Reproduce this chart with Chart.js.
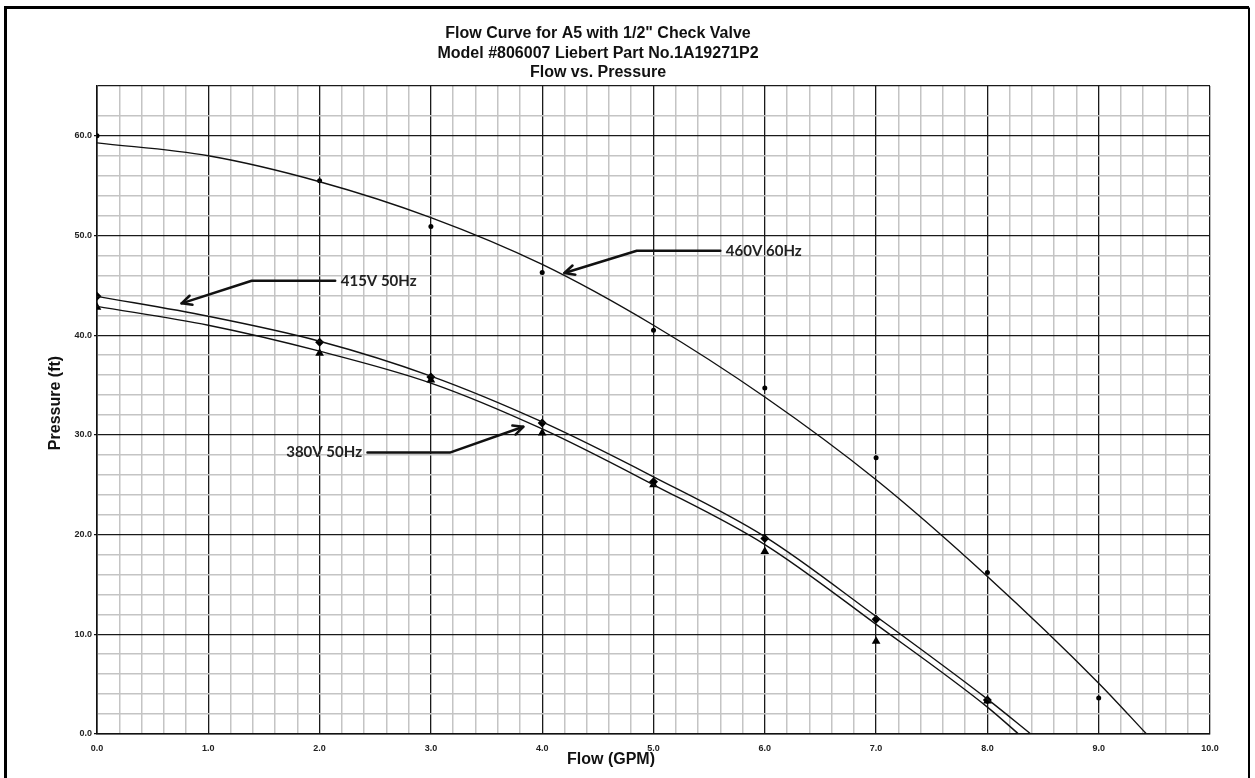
<!DOCTYPE html>
<html>
<head>
<meta charset="utf-8">
<script src="https://cdn.jsdelivr.net/npm/chart.js@4/dist/chart.umd.min.js"></script>
<style>
  html, body { margin: 0; padding: 0; background: #fff; }
  #wrap { width: 1255px; height: 778px; position: relative; }
</style>
</head>
<body>
<div id="wrap"><canvas id="flowChart" width="1255" height="778"></canvas></div>
<script>
const flow460 = [0, 2, 3, 4, 5, 6, 7, 8, 9];
const press460 = [60.0, 55.5, 50.9, 46.3, 40.5, 34.7, 27.7, 16.2, 3.6];
const flow415 = [0, 2, 3, 4, 5, 6, 7, 8];
const press415 = [43.9, 39.3, 35.8, 31.2, 25.3, 19.6, 11.5, 3.4];
const flow380 = [0, 2, 3, 4, 5, 6, 7, 8];
const press380 = [42.8, 38.2, 35.5, 30.2, 25.0, 18.3, 9.3, 3.3];

// Trend curves
const curveFlow460 = [0, 1, 2, 3, 4, 5, 6, 7, 8, 9, 9.43];
const curvePress460 = [59.3, 58.0, 55.4, 51.8, 47.1, 41.0, 33.8, 25.5, 15.8, 5.1, 0];
const curveFlow415 = [0, 1, 2, 3, 4, 5, 6, 7, 8, 8.39];
const curvePress415 = [43.9, 41.9, 39.4, 35.9, 31.3, 25.8, 19.8, 11.8, 3.5, 0];
const curveFlow380 = [0, 1, 2, 3, 4, 5, 6, 7, 8, 8.28];
const curvePress380 = [42.9, 41.0, 38.4, 35.2, 30.6, 25.0, 19.0, 11.0, 2.7, 0];

// Callout labels: text, text position, arrow path (data units)
const calloutText = ['460V 60Hz', '415V 50Hz', '380V 50Hz'];
const calloutTextAt = [[5.65, 48.48], [2.19, 45.47], [1.70, 28.23]];
const calloutPath = [
  [[5.6, 48.48], [4.85, 48.48], [4.2, 46.24]],
  [[2.14, 45.47], [1.39, 45.47], [0.76, 43.2]],
  [[2.43, 28.23], [3.17, 28.23], [3.83, 30.82]]
];

const titleLines = ['Flow Curve for A5 with 1/2" Check Valve', 'Model #806007 Liebert Part No.1A19271P2', 'Flow vs. Pressure'];

function pts(xs, ys) {
  return xs.map((x, i) => ({ x: x, y: ys[i] }));
}

function isMajor(v, step) {
  return Math.abs(v / step - Math.round(v / step)) < 1e-6;
}

const frameAndText = {
  id: 'frameAndText',
  beforeDraw(chart) {
    const c = chart.ctx;
    c.save();
    c.fillStyle = '#fff';
    c.fillRect(0, 0, chart.width, chart.height);
    c.restore();
  },
  afterDraw(chart) {
    const c = chart.ctx;
    const xs = chart.scales.x, ys = chart.scales.y;
    c.save();
    // outer frame
    c.strokeStyle = '#000';
    c.lineWidth = 3;
    c.beginPath();
    c.moveTo(5.5, 778);
    c.lineTo(5.5, 7.5);
    c.lineTo(1249, 7.5);
    c.stroke();
    c.lineWidth = 2;
    c.beginPath();
    c.moveTo(1249, 7.5);
    c.lineTo(1249, 778);
    c.stroke();

    // title
    c.fillStyle = '#111';
    c.textAlign = 'center';
    c.textBaseline = 'middle';
    c.font = 'bold 16px "Liberation Sans", Arial, sans-serif';
    titleLines.forEach((t, i) => c.fillText(t, 598, 33.5 + i * 19.6));

    // axis titles
    c.font = 'bold 16px "Liberation Sans", Arial, sans-serif';
    c.fillText('Flow (GPM)', 611, 760);
    c.save();
    c.translate(56, 403);
    c.rotate(-Math.PI / 2);
    c.fillText('Pressure (ft)', 0, 0);
    c.restore();

    // callouts
    c.font = 'bold 15px Lato, "Open Sans", sans-serif';
    c.textAlign = 'left';
    calloutText.forEach((t, i) => {
      const tp = calloutTextAt[i];
      c.fillStyle = '#222';
      c.fillText(t, xs.getPixelForValue(tp[0]), ys.getPixelForValue(tp[1]));
      const path = calloutPath[i].map(p => [xs.getPixelForValue(p[0]), ys.getPixelForValue(p[1])]);
      c.strokeStyle = '#111';
      c.lineWidth = 2.5;
      c.lineCap = 'round';
      c.lineJoin = 'round';
      c.beginPath();
      c.moveTo(path[0][0], path[0][1]);
      for (let k = 1; k < path.length; k++) c.lineTo(path[k][0], path[k][1]);
      c.stroke();
      // arrow head
      const a = path[path.length - 2], b = path[path.length - 1];
      const ang = Math.atan2(b[1] - a[1], b[0] - a[0]);
      const len = 11, spread = 0.45;
      c.beginPath();
      c.moveTo(b[0] - len * Math.cos(ang - spread), b[1] - len * Math.sin(ang - spread));
      c.lineTo(b[0], b[1]);
      c.lineTo(b[0] - len * Math.cos(ang + spread), b[1] - len * Math.sin(ang + spread));
      c.stroke();
    });
    c.restore();
  }
};

const ctx = document.getElementById('flowChart').getContext('2d');
const flowChart = new Chart(ctx, {
  type: 'scatter',
  data: {
    datasets: [
      {
        label: '460V 60Hz trend',
        data: pts(curveFlow460, curvePress460),
        showLine: true,
        borderColor: '#111',
        borderWidth: 1.4,
        pointRadius: 0,
        cubicInterpolationMode: 'monotone'
      },
      {
        label: '415V 50Hz trend',
        data: pts(curveFlow415, curvePress415),
        showLine: true,
        borderColor: '#111',
        borderWidth: 1.4,
        pointRadius: 0,
        cubicInterpolationMode: 'monotone'
      },
      {
        label: '380V 50Hz trend',
        data: pts(curveFlow380, curvePress380),
        showLine: true,
        borderColor: '#111',
        borderWidth: 1.4,
        pointRadius: 0,
        cubicInterpolationMode: 'monotone'
      },
      {
        label: '460V 60Hz',
        data: pts(flow460, press460),
        pointStyle: 'circle',
        pointRadius: 2.5,
        backgroundColor: '#000',
        borderColor: '#000',
        borderWidth: 0
      },
      {
        label: '380V 50Hz',
        data: pts(flow380, press380),
        pointStyle: 'triangle',
        pointRadius: 5,
        backgroundColor: '#000',
        borderColor: '#000',
        borderWidth: 0
      },
      {
        label: '415V 50Hz',
        data: pts(flow415, press415),
        pointStyle: 'rectRot',
        pointRadius: 4.5,
        backgroundColor: '#000',
        borderColor: '#000',
        borderWidth: 0
      }
    ]
  },
  options: {
    responsive: false,
    animation: false,
    layout: { padding: { left: 0, top: 86, right: 45, bottom: 0 } },
    plugins: {
      legend: { display: false },
      tooltip: { enabled: false },
      title: { display: false }
    },
    scales: {
      x: {
        type: 'linear',
        min: 0,
        max: 10,
        afterFit: s => { s.height = 44; },
        border: { color: '#111', width: 1.6 },
        grid: {
          color: c => isMajor(c.tick.value, 1) ? '#1a1a1a' : '#c4c4c4',
          lineWidth: c => isMajor(c.tick.value, 1) ? 1.3 : 1.5,
          tickLength: 4,
          tickColor: 'rgba(0,0,0,0)'
        },
        ticks: {
          stepSize: 0.2,
          autoSkip: false,
          maxRotation: 0,
          padding: 5,
          color: '#222',
          font: { family: '"Liberation Sans", Arial, sans-serif', size: 9, weight: 'bold' },
          callback: v => isMajor(v, 1) ? v.toFixed(1) : ''
        }
      },
      y: {
        type: 'linear',
        min: 0,
        max: 65,
        afterFit: s => { s.width = 97; },
        border: { color: '#111', width: 1.6 },
        grid: {
          color: c => (isMajor(c.tick.value, 10) || c.tick.value === 65) ? '#1a1a1a' : '#c4c4c4',
          lineWidth: c => (isMajor(c.tick.value, 10) || c.tick.value === 65) ? 1.3 : 1.5,
          tickLength: 3,
          tickColor: c => isMajor(c.tick.value, 10) ? '#111' : 'rgba(0,0,0,0)'
        },
        ticks: {
          stepSize: 2,
          autoSkip: false,
          padding: 2,
          color: '#222',
          font: { family: '"Liberation Sans", Arial, sans-serif', size: 9, weight: 'bold' },
          callback: v => isMajor(v, 10) ? v.toFixed(1) : ''
        }
      }
    }
  },
  plugins: [frameAndText]
});
</script>
</body>
</html>
